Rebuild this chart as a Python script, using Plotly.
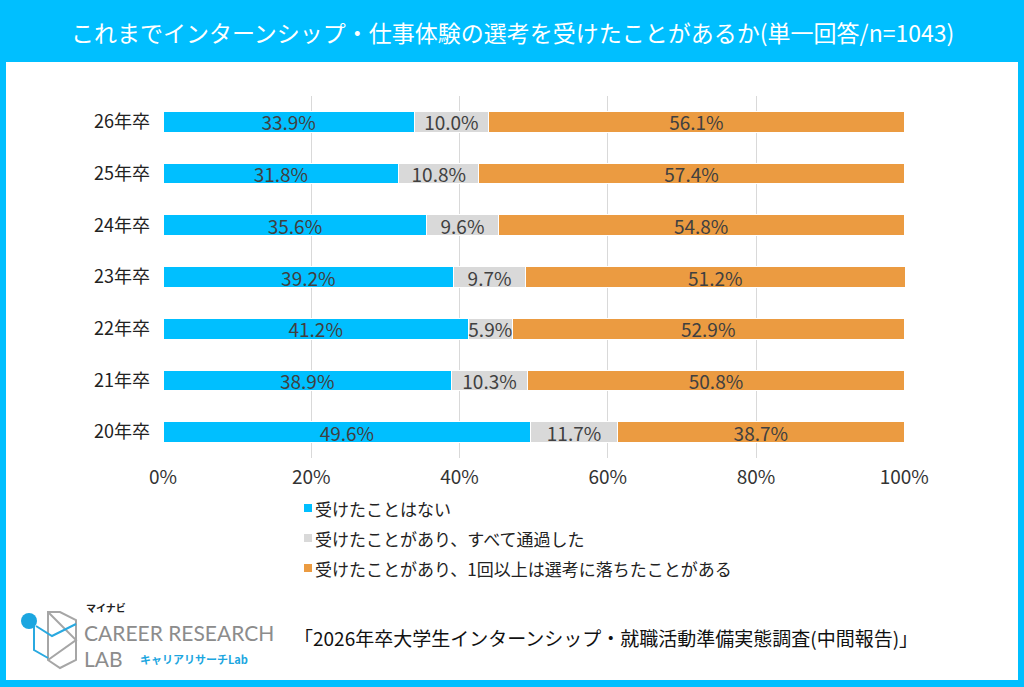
import plotly.graph_objects as go

categories = ["26年卒", "25年卒", "24年卒", "23年卒", "22年卒", "21年卒", "20年卒"]
series_names = ["受けたことはない", "受けたことがあり、すべて通過した", "受けたことがあり、1回以上は選考に落ちたことがある"]
never = [33.9, 31.8, 35.6, 39.2, 41.2, 38.9, 49.6]
all_passed = [10.0, 10.8, 9.6, 9.7, 5.9, 10.3, 11.7]
failed_once = [56.1, 57.4, 54.8, 51.2, 52.9, 50.8, 38.7]
tick_vals = [0, 20, 40, 60, 80, 100]
tick_text = ["0%", "20%", "40%", "60%", "80%", "100%"]
colors = ["#00BFFF", "#D9D9D9", "#EB9B41"]
title_text = "これまでインターンシップ・仕事体験の選考を受けたことがあるか(単一回答/n=1043)"
source_text = "「2026年卒大学生インターンシップ・就職活動準備実態調査(中間報告)」"

W, H = 1024, 687
FONT = "Noto Sans CJK JP"

def px(x):
    return x / W

def py(y):
    return 1 - y / H

fig = go.Figure()
for name, vals, col in zip(series_names, [never, all_passed, failed_once], colors):
    fig.add_trace(go.Bar(
        y=categories, x=vals, name=name, orientation="h",
        marker=dict(color=col, line=dict(color="white", width=1)),
        text=[f"{v:.1f}%" for v in vals],
        textposition="inside", insidetextanchor="middle",
        constraintext="none",
        textfont=dict(family=FONT, size=19, color="#404040"),
        hoverinfo="skip", showlegend=False,
    ))

shapes = [
    dict(type="rect", xref="paper", yref="paper", x0=px(6), x1=px(1018), y0=py(680), y1=py(62),
         fillcolor="white", line=dict(width=0), layer="below"),
]

# custom legend built from the series lists
annotations = []
for i, (name, col) in enumerate(zip(series_names, colors)):
    yc = 508 + 30 * i
    shapes.append(dict(type="rect", xref="paper", yref="paper",
                       x0=px(304), x1=px(312), y0=py(yc + 4), y1=py(yc - 4),
                       fillcolor=col, line=dict(width=0)))
    annotations.append(dict(text=name, x=px(313), y=py(yc), xref="paper", yref="paper",
                            showarrow=False, xanchor="left", yanchor="middle",
                            font=dict(family=FONT, size=17, color="#222222")))

def conv_path(p):
    toks = p.split()
    out = []
    i = 0
    while i < len(toks):
        t = toks[i]
        if t in ("M", "L"):
            x = float(toks[i + 1]); y = float(toks[i + 2])
            out.append(f"{t} {px(x):.5f} {py(y):.5f}")
            i += 3
        else:
            out.append(t)
            i += 1
    return " ".join(out)

# logo icon (approximation)
shapes.append(dict(type="path", xref="paper", yref="paper",
                   path=conv_path("M 48 612 L 48 660 L 60 668 L 76 660 L 76 620 L 60 612 Z"),
                   line=dict(color="#A6A6A6", width=2), fillcolor="rgba(0,0,0,0)"))
shapes.append(dict(type="path", xref="paper", yref="paper",
                   path=conv_path("M 48 612 L 76 640 L 48 660"),
                   line=dict(color="#A6A6A6", width=2)))
shapes.append(dict(type="path", xref="paper", yref="paper",
                   path=conv_path("M 34 624 L 34 650 L 48 658"),
                   line=dict(color="#29A9E0", width=2)))
shapes.append(dict(type="path", xref="paper", yref="paper",
                   path=conv_path("M 36 626 L 52 636 L 76 624"),
                   line=dict(color="#29A9E0", width=2)))
shapes.append(dict(type="circle", xref="paper", yref="paper",
                   x0=px(21), x1=px(37), y0=py(629), y1=py(613),
                   fillcolor="#1BA6E0", line=dict(width=0)))

annotations += [
    dict(text=title_text, x=0.5, y=py(32), xref="paper", yref="paper", showarrow=False,
         font=dict(family=FONT, size=23, color="white"), xanchor="center", yanchor="middle"),
    dict(text=source_text, x=px(292), y=py(637), xref="paper", yref="paper", showarrow=False,
         font=dict(family=FONT, size=19, color="#111111"), xanchor="left", yanchor="middle"),
    dict(text="<b>マイナビ</b>", x=px(84), y=py(607), xref="paper", yref="paper", showarrow=False,
         font=dict(family=FONT, size=10, color="#222222"), xanchor="left", yanchor="middle"),
    dict(text="CAREER RESEARCH", x=px(82), y=py(632), xref="paper", yref="paper", showarrow=False,
         font=dict(family="Lato", size=21, color="#8C8C8C"), xanchor="left", yanchor="middle"),
    dict(text="LAB", x=px(82), y=py(658), xref="paper", yref="paper", showarrow=False,
         font=dict(family="Lato", size=21, color="#8C8C8C"), xanchor="left", yanchor="middle"),
    dict(text="<b>キャリアリサーチLab</b>", x=px(138), y=py(659), xref="paper", yref="paper", showarrow=False,
         font=dict(family=FONT, size=11, color="#1BA6E0"), xanchor="left", yanchor="middle"),
]

fig.update_layout(
    width=W, height=H,
    barmode="stack", bargap=0.6,
    paper_bgcolor="#00BFFF", plot_bgcolor="rgba(0,0,0,0)",
    margin=dict(l=0, r=0, t=0, b=0),
    font=dict(family=FONT, color="#222222"),
    xaxis=dict(domain=[px(163), px(905)], range=[0, 100.1], tickvals=tick_vals, ticktext=tick_text,
               showgrid=True, gridcolor="#D9D9D9", gridwidth=1, zeroline=False, showline=False,
               tickfont=dict(family=FONT, size=19, color="#333333"), ticks="", ticklabelstandoff=6,
               fixedrange=True, automargin=False),
    yaxis=dict(domain=[py(458), py(96)], categoryorder="array", categoryarray=categories[::-1],
               tickfont=dict(family=FONT, size=18, color="#222222"), ticks="", showgrid=False,
               ticklabelstandoff=12, fixedrange=True, automargin=False),
    shapes=shapes, annotations=annotations,
    showlegend=False,
)

fig.write_html("out.html", config={"displayModeBar": False},
               post_script="document.body.style.margin='0';document.body.style.overflow='hidden';")
